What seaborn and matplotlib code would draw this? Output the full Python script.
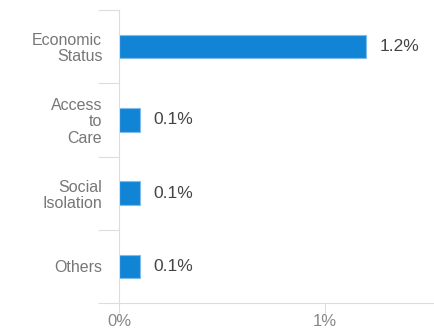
import matplotlib
matplotlib.use("Agg")
import matplotlib.pyplot as plt
import seaborn as sns
import pandas as pd
import numpy as np

categories = ["Economic\nStatus", "Access\nto\nCare", "Social\nIsolation", "Others"]
values = [1.2, 0.1, 0.1, 0.1]
value_labels = ["1.2%", "0.1%", "0.1%", "0.1%"]
x_ticks = [0, 1]
x_tick_labels = ["0%", "1%"]

sns.set_theme(style="white")
plt.rcParams['font.family'] = ['Liberation Sans', 'DejaVu Sans']

df = pd.DataFrame({"category": categories, "value": values})

fig = plt.figure(figsize=(4.34, 3.32), dpi=100)
ax = fig.add_axes([119/434, 1 - 303/332, 1 - 119/434, (303 - 10)/332])

sns.barplot(data=df, y="category", x="value", orient="h", color="#1284d6",
            width=0.32, ax=ax, edgecolor="#7fbcea", linewidth=0.8, saturation=1)

ax.set_xlim(0, 1.53)
ax.set_ylim(3.5, -0.5)
ax.set_xlabel("")
ax.set_ylabel("")

for i, (v, lab) in enumerate(zip(values, value_labels)):
    ax.annotate(lab, xy=(v, i), xytext=(10, 0), textcoords="offset points",
                va="center", ha="left", fontsize=12.5, color="#444444")

ax.set_xticks(x_ticks)
ax.set_xticklabels(x_tick_labels, fontsize=12, color="#888888")
ax.tick_params(axis="x", length=7, width=0.8, color="#dddddd", pad=1, bottom=True)

ax.set_yticks(range(len(categories)))
ax.set_yticklabels(categories, fontsize=11.5, color="#777777", ha="right",
                   multialignment="right", linespacing=1.1)
ax.tick_params(axis="y", length=0, pad=12)
ax.set_yticks(np.arange(-0.5, len(categories), 1.0), minor=True)
ax.tick_params(axis="y", which="minor", length=15, width=0.8, color="#dddddd", left=True)

for s in ["top", "right"]:
    ax.spines[s].set_visible(False)
for s in ["left", "bottom"]:
    ax.spines[s].set_color("#dddddd")
    ax.spines[s].set_linewidth(0.8)

fig.savefig("out.png", dpi=100, facecolor="white")
